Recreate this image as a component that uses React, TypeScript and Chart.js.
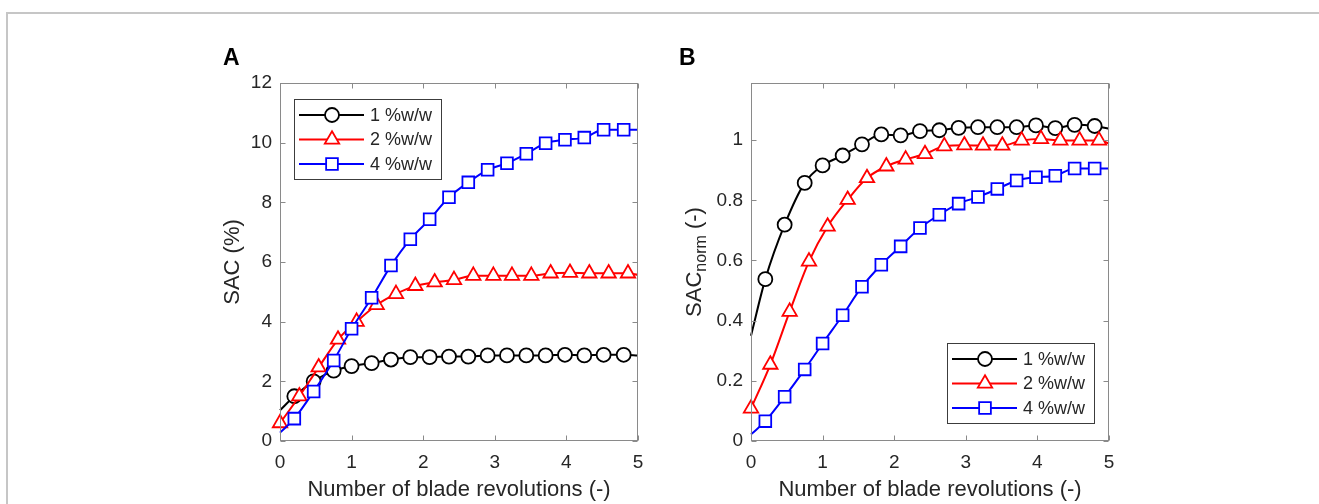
import React, { useEffect, useRef } from "react";
import { Chart, registerables } from "chart.js";

Chart.register(...registerables);

// ---------- data ----------
const xTicks = [0, 1, 2, 3, 4, 5];
const yTicksA = [0, 2, 4, 6, 8, 10, 12];
const yTicksB = [0, 0.2, 0.4, 0.6, 0.8, 1];

const seriesLabels = ["1 %w/w", "2 %w/w", "4 %w/w"];

// blade revolutions for the 1 %w/w and 4 %w/w series
const revs14 = [0, 0.2, 0.47, 0.75, 1.0, 1.28, 1.55, 1.82, 2.09, 2.36, 2.63, 2.9, 3.17, 3.44, 3.71, 3.98, 4.25, 4.52, 4.8, 5.0];
// blade revolutions for the 2 %w/w series
const revs2 = [0, 0.27, 0.54, 0.81, 1.07, 1.35, 1.62, 1.89, 2.16, 2.43, 2.7, 2.98, 3.24, 3.51, 3.78, 4.05, 4.32, 4.59, 4.86, 5.0];
// which points carry a marker (1) and which are line-only (0)
const marks14 = [0, 1, 1, 1, 1, 1, 1, 1, 1, 1, 1, 1, 1, 1, 1, 1, 1, 1, 1, 0];
const marks2 = [1, 1, 1, 1, 1, 1, 1, 1, 1, 1, 1, 1, 1, 1, 1, 1, 1, 1, 1, 0];

// Panel A: SAC (%)
const sacA1 = [1.03, 1.5, 2.0, 2.36, 2.51, 2.61, 2.73, 2.81, 2.81, 2.83, 2.83, 2.87, 2.87, 2.87, 2.87, 2.89, 2.87, 2.89, 2.89, 2.87];
const sacA2 = [0.6, 1.5, 2.47, 3.4, 4.0, 4.56, 4.93, 5.2, 5.32, 5.4, 5.54, 5.54, 5.54, 5.54, 5.62, 5.64, 5.62, 5.62, 5.62, 5.57];
const sacA4 = [0.28, 0.75, 1.66, 2.7, 3.76, 4.8, 5.88, 6.76, 7.43, 8.17, 8.67, 9.09, 9.31, 9.63, 9.98, 10.1, 10.17, 10.43, 10.43, 10.43];

// Panel B: SAC_norm (-)
const normB1 = [0.35, 0.538, 0.719, 0.858, 0.916, 0.949, 0.986, 1.019, 1.016, 1.03, 1.033, 1.041, 1.043, 1.043, 1.043, 1.049, 1.04, 1.051, 1.047, 1.038];
const normB2 = [0.108, 0.254, 0.43, 0.597, 0.713, 0.802, 0.874, 0.913, 0.936, 0.954, 0.98, 0.983, 0.982, 0.982, 0.999, 1.004, 0.999, 0.999, 0.999, 0.989];
const normB4 = [0.022, 0.066, 0.147, 0.238, 0.324, 0.418, 0.513, 0.586, 0.647, 0.708, 0.752, 0.789, 0.811, 0.838, 0.866, 0.877, 0.882, 0.906, 0.906, 0.906];

// ---------- styles ----------
const FAMILY = '"Liberation Sans", Arial, Helvetica, sans-serif';
const TEXT = "#262626";
const AXIS = "#8a8a8a";
const COLORS = ["#000000", "#ff0000", "#0000ff"];
const STYLES = ["circle", "triangle", "rect"];
const RADII = [7, 8.3, 8.3];
const TICK_SIZE = 19;
const TITLE_SIZE = 22;

function drawMarker(ctx: CanvasRenderingContext2D, style: string, x: number, y: number, r: number) {
  ctx.beginPath();
  if (style === "circle") {
    ctx.arc(x, y, r, 0, Math.PI * 2);
  } else if (style === "triangle") {
    let a = 0;
    ctx.moveTo(x + Math.sin(a) * r, y - Math.cos(a) * r);
    a += (2 * Math.PI) / 3;
    ctx.lineTo(x + Math.sin(a) * r, y - Math.cos(a) * r);
    a += (2 * Math.PI) / 3;
    ctx.lineTo(x + Math.sin(a) * r, y - Math.cos(a) * r);
    ctx.closePath();
  } else {
    const s = Math.SQRT1_2 * r;
    ctx.rect(x - s, y - s, 2 * s, 2 * s);
  }
  ctx.fill();
  ctx.stroke();
}

const decorPlugin = {
  id: "decor",
  afterDraw(chart: any) {
    const o = chart.options.plugins.decor;
    if (!o) return;
    const ctx: CanvasRenderingContext2D = chart.ctx;
    const ca = chart.chartArea;
    const xs = chart.scales.x;
    const ys = chart.scales.y;
    ctx.save();

    // axes box
    const L = Math.round(ca.left) + 0.5;
    const R = Math.round(ca.right) - 0.5;
    const T = Math.round(ca.top) + 0.5;
    const B = Math.round(ca.bottom) - 0.5;
    ctx.strokeStyle = AXIS;
    ctx.lineWidth = 1;
    ctx.strokeRect(L, T, R - L, B - T);

    // inward ticks on all four sides
    const tl = 5;
    ctx.beginPath();
    for (const v of xTicks) {
      const px = Math.round(xs.getPixelForValue(v)) + 0.5;
      ctx.moveTo(px, B);
      ctx.lineTo(px, B - tl);
      ctx.moveTo(px, T);
      ctx.lineTo(px, T + tl);
    }
    for (const v of o.yTicks) {
      const py = Math.round(ys.getPixelForValue(v)) + 0.5;
      ctx.moveTo(L, py);
      ctx.lineTo(L + tl, py);
      ctx.moveTo(R, py);
      ctx.lineTo(R - tl, py);
    }
    ctx.stroke();

    // y-axis title (rotated, with optional subscript)
    const cy = (ca.top + ca.bottom) / 2;
    ctx.fillStyle = TEXT;
    ctx.textBaseline = "alphabetic";
    ctx.textAlign = "left";
    let total = 0;
    for (const p of o.yTitle) {
      ctx.font = `${p.size}px ${FAMILY}`;
      total += ctx.measureText(p.text).width;
    }
    ctx.save();
    ctx.translate(o.yTitleX, cy);
    ctx.rotate(-Math.PI / 2);
    let cx = -total / 2;
    for (const p of o.yTitle) {
      ctx.font = `${p.size}px ${FAMILY}`;
      ctx.fillText(p.text, cx, p.shift);
      cx += ctx.measureText(p.text).width;
    }
    ctx.restore();

    // panel letter
    ctx.font = `bold 23px ${FAMILY}`;
    ctx.fillStyle = "#000";
    ctx.fillText(o.letter, o.letterX, o.letterY);

    // legend
    const lx = ca.left + o.legend.dx;
    const ly = ca.top + o.legend.dy;
    const lw = 147;
    const lh = 80;
    ctx.fillStyle = "#fff";
    ctx.fillRect(lx, ly, lw, lh);
    ctx.strokeStyle = "#3c3c3c";
    ctx.lineWidth = 1;
    ctx.strokeRect(Math.round(lx) + 0.5, Math.round(ly) + 0.5, lw, lh);
    const rows = [16, 40.5, 65];
    chart.data.datasets.forEach((ds: any, i: number) => {
      const ry = ly + rows[i];
      ctx.strokeStyle = ds.borderColor;
      ctx.lineWidth = 2;
      ctx.beginPath();
      ctx.moveTo(lx + 5, ry);
      ctx.lineTo(lx + 70, ry);
      ctx.stroke();
      ctx.fillStyle = "#fff";
      ctx.lineWidth = 1.8;
      drawMarker(ctx, STYLES[i], lx + 38, ry, RADII[i]);
      ctx.fillStyle = TEXT;
      ctx.font = `18px ${FAMILY}`;
      ctx.textBaseline = "middle";
      ctx.fillText(ds.label, lx + 76, ry + 1);
      ctx.textBaseline = "alphabetic";
    });

    ctx.restore();
  },
};

function makeDatasets(ys: number[][]) {
  const xsets = [revs14, revs2, revs14];
  const msets = [marks14, marks2, marks14];
  return ys.map((vals, i) => ({
    label: seriesLabels[i],
    data: xsets[i].map((x, j) => ({ x, y: vals[j] })),
    borderColor: COLORS[i],
    backgroundColor: "#fff",
    borderWidth: 2,
    pointStyle: STYLES[i],
    pointRadius: msets[i].map((m) => (m ? RADII[i] : 0)),
    pointHoverRadius: 0,
    pointBorderWidth: 1.8,
    pointBackgroundColor: "#fff",
    pointBorderColor: COLORS[i],
    cubicInterpolationMode: "monotone",
    clip: false,
    order: 2 - i,
  }));
}

function makeConfig(ys: number[][], yMax: number, yTicks: number[], decor: any): any {
  return {
    type: "line",
    data: { datasets: makeDatasets(ys) },
    plugins: [decorPlugin],
    options: {
      animation: false,
      responsive: false,
      events: [],
      layout: { padding: { left: 0, top: 43, right: 22, bottom: 0 } },
      plugins: {
        legend: { display: false },
        tooltip: { enabled: false },
        decor: { ...decor, yTicks },
      },
      scales: {
        x: {
          type: "linear",
          min: 0,
          max: 5,
          border: { display: false },
          grid: { display: false, drawTicks: false },
          afterBuildTicks: (s: any) => {
            s.ticks = xTicks.map((v) => ({ value: v }));
          },
          afterFit: (s: any) => {
            s.height = 63;
          },
          ticks: {
            padding: 10,
            color: TEXT,
            autoSkip: false,
            maxRotation: 0,
            font: { family: FAMILY, size: TICK_SIZE },
            callback: (v: number) => String(v),
          },
          title: {
            display: true,
            text: "Number of blade revolutions (-)",
            color: TEXT,
            font: { family: FAMILY, size: TITLE_SIZE },
            padding: { top: 0, bottom: 1 },
          },
        },
        y: {
          type: "linear",
          min: 0,
          max: yMax,
          border: { display: false },
          grid: { display: false, drawTicks: false },
          afterBuildTicks: (s: any) => {
            s.ticks = yTicks.map((v) => ({ value: v }));
          },
          afterFit: (s: any) => {
            s.width = 80;
          },
          ticks: {
            padding: 8,
            color: TEXT,
            autoSkip: false,
            font: { family: FAMILY, size: TICK_SIZE },
            callback: (v: number) => String(Number(v.toFixed(2))),
          },
        },
      },
    },
  };
}

export default function App() {
  const refA = useRef<HTMLCanvasElement>(null);
  const refB = useRef<HTMLCanvasElement>(null);

  useEffect(() => {
    const a = new Chart(
      refA.current as HTMLCanvasElement,
      makeConfig([sacA1, sacA2, sacA4], 12, yTicksA, {
        letter: "A",
        letterX: 23,
        letterY: 25,
        yTitleX: 39,
        yTitle: [{ text: "SAC (%)", size: TITLE_SIZE, shift: 0 }],
        legend: { dx: 14, dy: 16 },
      })
    );
    const b = new Chart(
      refB.current as HTMLCanvasElement,
      makeConfig([normB1, normB2, normB4], 1.19, yTicksB, {
        letter: "B",
        letterX: 8,
        letterY: 25,
        yTitleX: 30,
        yTitle: [
          { text: "SAC", size: TITLE_SIZE, shift: 0 },
          { text: "norm", size: 16, shift: 5 },
          { text: " (-)", size: TITLE_SIZE, shift: 0 },
        ],
        legend: { dx: 196, dy: 260 },
      })
    );
    return () => {
      a.destroy();
      b.destroy();
    };
  }, []);

  return (
    <div
      style={{
        position: "absolute",
        left: 0,
        top: 0,
        width: 1319,
        height: 504,
        background: "#fff",
        overflow: "hidden",
      }}
    >
      <div
        style={{
          position: "absolute",
          left: 6,
          top: 12,
          right: -10,
          bottom: -10,
          borderTop: "2px solid #c6c6c6",
          borderLeft: "2px solid #c6c6c6",
        }}
      />
      <canvas
        ref={refA}
        width={460}
        height={464}
        style={{ position: "absolute", left: 200, top: 40, width: 460, height: 464 }}
      />
      <canvas
        ref={refB}
        width={460}
        height={464}
        style={{ position: "absolute", left: 671, top: 40, width: 460, height: 464 }}
      />
    </div>
  );
}
